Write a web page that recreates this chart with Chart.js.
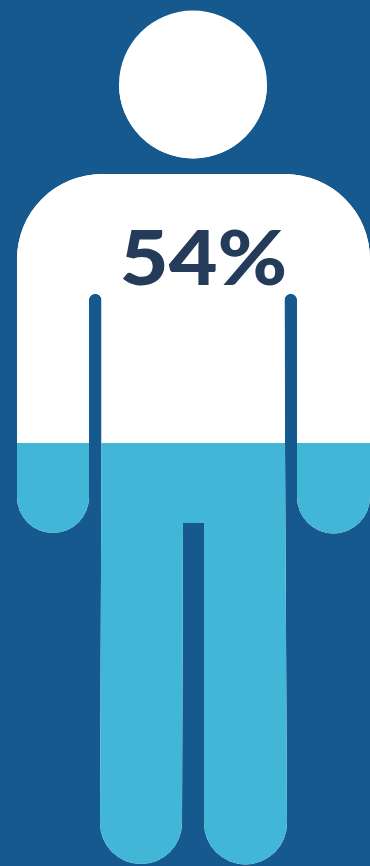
<!DOCTYPE html>
<html>
<head>
<meta charset="utf-8">
<style>
  html, body { margin: 0; padding: 0; background: #15598e; }
  canvas { display: block; }
</style>
<script src="https://cdn.jsdelivr.net/npm/chart.js@4"></script>
</head>
<body>
<canvas id="figure" width="370" height="866"></canvas>
<script>
// Share of people represented by the filled part of the figure
const categories = ['Share'];
const filledValues = [54];
const remainderValues = [46];

const FILL_COLOR = '#41b6d6';
const BODY_COLOR = '#ffffff';
const LABEL_COLOR = '#243b59';

// Outline of the person: head, torso, both arms and legs
function tracePerson(ctx) {
  ctx.beginPath();
  ctx.arc(193, 84.5, 74, 0, Math.PI * 2);
  ctx.closePath();

  ctx.moveTo(102, 174);
  ctx.lineTo(285, 174);
  ctx.arcTo(370, 174, 370, 259, 85);
  ctx.lineTo(370, 497);
  ctx.arc(333.5, 497, 36.5, 0, Math.PI);
  ctx.lineTo(297, 300);
  ctx.arc(290.75, 300, 6.25, 0, Math.PI, true);
  ctx.lineTo(285, 443);
  ctx.lineTo(287, 823);
  ctx.arc(245.5, 823, 41.5, 0, Math.PI);
  ctx.lineTo(204, 523);
  ctx.lineTo(183, 523);
  ctx.lineTo(182, 823);
  ctx.arc(141, 823, 41, 0, Math.PI);
  ctx.lineTo(101.5, 443);
  ctx.lineTo(101.5, 300);
  ctx.arc(95.25, 300, 6.25, 0, Math.PI, true);
  ctx.lineTo(89, 497);
  ctx.arc(53, 497, 36, 0, Math.PI);
  ctx.lineTo(17, 259);
  ctx.arcTo(17, 174, 102, 174, 85);
  ctx.closePath();
}

// Paints the white body, then confines the bars to its outline
const personMask = {
  id: 'personMask',
  beforeDatasetsDraw(chart) {
    const ctx = chart.ctx;
    ctx.save();
    tracePerson(ctx);
    ctx.fillStyle = BODY_COLOR;
    ctx.fill();
    ctx.clip();
  },
  afterDatasetsDraw(chart) {
    chart.ctx.restore();
  }
};

// Writes the value across the chest, slightly widened
const valueLabel = {
  id: 'valueLabel',
  afterDraw(chart) {
    const ctx = chart.ctx;
    ctx.save();
    ctx.translate(203.5, 285);
    ctx.scale(1.095, 1);
    ctx.fillStyle = LABEL_COLOR;
    ctx.font = '900 77px Lato, sans-serif';
    ctx.textAlign = 'center';
    ctx.textBaseline = 'alphabetic';
    ctx.fillText(filledValues[0] + '%', 0, 0);
    ctx.restore();
  }
};

new Chart(document.getElementById('figure'), {
  type: 'bar',
  data: {
    labels: categories,
    datasets: [
      { data: filledValues, backgroundColor: FILL_COLOR, barPercentage: 1, categoryPercentage: 1, borderWidth: 0 },
      { data: remainderValues, backgroundColor: BODY_COLOR, barPercentage: 1, categoryPercentage: 1, borderWidth: 0 }
    ]
  },
  options: {
    responsive: false,
    animation: false,
    events: [],
    layout: { padding: { top: 85, bottom: 2, left: 0, right: 0 } },
    plugins: { legend: { display: false }, title: { display: false }, tooltip: { enabled: false } },
    scales: {
      x: { stacked: true, display: false },
      y: { stacked: true, display: false, min: 0, max: 100 }
    }
  },
  plugins: [personMask, valueLabel]
});
</script>
</body>
</html>
